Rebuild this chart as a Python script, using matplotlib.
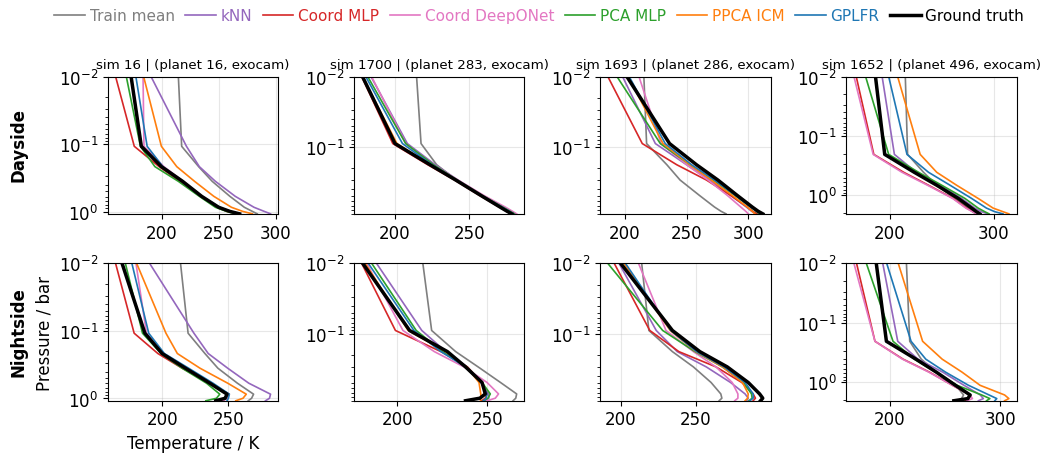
import numpy as np
import matplotlib
matplotlib.use("Agg")
import matplotlib.pyplot as plt

# one column per test simulation
sims = [16, 1700, 1693, 1652]
planets = [16, 283, 286, 496]
surface_pressure = [1.08, 0.9, 0.9, 2.04]  # bar
# model levels: top level at 0.01 bar, the rest are sigma levels
sigma = [0.1, 0.2, 0.33, 0.55, 0.8, 0.92, 1.0]

# temperatures (K), one row per column of the figure
train_mean_day = [[214.6, 217.5, 232.4, 244.3, 259.8, 272.5, 279.6, 283.8],
                  [214.5, 217.5, 228.0, 241.2, 258.3, 272.0, 276.8, 280.3],
                  [215.4, 217.6, 234.0, 244.7, 260.6, 272.6, 277.9, 281.9],
                  [215.0, 217.2, 232.5, 245.2, 262.7, 275.5, 279.6, 282.8]]
train_mean_night = [[213.9, 219.6, 232.3, 242.1, 256.8, 269.0, 267.5, 265.0],
                    [214.2, 219.1, 232.5, 245.0, 257.5, 266.5, 266.0, 264.5],
                    [214.0, 218.8, 234.5, 248.5, 260.3, 266.8, 267.5, 265.7],
                    [214.9, 217.9, 228.4, 241.8, 259.7, 266.8, 265.0, 261.0]]

knn_day = [[190.6, 221.7, 233.0, 247.1, 264.5, 281.0, 290.0, 295.5],
           [183.8, 208.3, 227.0, 242.3, 259.2, 273.0, 278.0, 281.1],
           [198.1, 224.7, 250.0, 268.6, 285.9, 298.4, 302.7, 305.9],
           [192.7, 204.5, 225.5, 248.4, 269.1, 281.8, 288.2, 294.6]]
knn_night = [[190.6, 224.0, 234.8, 249.5, 265.4, 281.8, 281.0, 278.0],
             [188.4, 213.6, 227.0, 239.0, 246.7, 250.9, 251.0, 249.0],
             [198.9, 223.7, 237.7, 257.1, 273.3, 283.0, 285.1, 284.1],
             [193.4, 207.0, 225.4, 247.8, 267.2, 282.0, 284.8, 280.3]]

coord_mlp_day = [[159.5, 175.9, 197.7, 216.0, 234.4, 248.5, 257.0, 266.3],
                 [177.6, 198.5, 222.0, 240.0, 257.0, 270.0, 275.0, 278.0],
                 [186.2, 214.1, 242.0, 266.0, 285.9, 299.2, 303.7, 307.2],
                 [167.8, 184.7, 213.4, 237.3, 261.1, 273.9, 280.3, 284.1]]
coord_mlp_night = [[164.9, 178.9, 196.8, 215.1, 236.0, 250.7, 249.0, 245.0],
                   [180.1, 198.9, 224.3, 239.0, 247.2, 250.0, 249.0, 247.0],
                   [195.7, 219.4, 238.8, 263.6, 280.8, 288.4, 289.9, 288.4],
                   [169.6, 186.3, 211.9, 235.8, 256.7, 272.8, 271.0, 268.3]]

deeponet_day = [[183.6, 184.4, 201.9, 218.9, 235.3, 250.3, 259.8, 267.7],
                [184.2, 207.2, 225.9, 242.3, 259.9, 274.1, 279.0, 281.8],
                [211.4, 229.3, 250.0, 267.3, 283.2, 293.9, 297.9, 300.0],
                [165.6, 184.1, 211.8, 236.3, 260.5, 273.2, 279.6, 283.4]]
deeponet_night = [[180.3, 188.2, 200.4, 217.6, 237.2, 250.0, 249.0, 246.0],
                  [182.9, 203.1, 220.6, 237.1, 250.0, 256.4, 254.6, 250.0],
                  [211.9, 230.2, 248.5, 263.6, 274.4, 278.2, 278.2, 276.1],
                  [167.2, 186.3, 211.3, 235.2, 256.7, 272.5, 274.9, 269.8]]

pca_mlp_day = [[168.9, 181.3, 194.0, 214.6, 233.0, 247.1, 257.0, 264.9],
               [181.6, 207.2, 225.9, 241.7, 258.8, 272.4, 277.4, 280.3],
               [193.6, 228.7, 252.7, 271.3, 289.4, 301.9, 306.4, 309.0],
               [176.8, 199.0, 227.7, 250.0, 272.3, 285.0, 291.4, 295.5]]
pca_mlp_night = [[172.3, 185.2, 199.2, 215.1, 233.5, 243.5, 241.0, 233.0],
                 [185.7, 210.5, 225.2, 238.4, 247.2, 251.8, 250.5, 248.0],
                 [191.4, 228.0, 249.6, 267.9, 281.9, 287.3, 287.7, 285.6],
                 [178.5, 202.7, 222.0, 241.5, 260.9, 283.3, 290.7, 287.7]]

ppca_icm_day = [[184.1, 199.7, 213.2, 228.8, 245.7, 261.2, 271.1, 279.6],
                [178.1, 201.3, 223.5, 240.8, 257.9, 270.6, 275.4, 278.5],
                [202.7, 230.9, 252.7, 270.0, 287.2, 299.2, 303.2, 305.3],
                [207.6, 229.3, 245.2, 264.3, 285.0, 299.4, 308.9, 314.6]]
ppca_icm_night = [[180.8, 202.9, 211.5, 228.6, 249.5, 263.5, 261.0, 255.6],
                  [182.0, 206.0, 227.0, 238.5, 245.5, 246.5, 246.5, 246.3],
                  [202.2, 233.0, 250.2, 267.9, 281.3, 285.1, 284.7, 283.0],
                  [207.5, 229.6, 247.4, 265.4, 281.8, 304.1, 308.0, 304.1]]

gplfr_day = [[177.3, 187.2, 201.0, 218.3, 235.0, 250.5, 260.5, 269.0],
             [180.3, 205.0, 224.8, 241.2, 258.3, 271.9, 276.8, 279.6],
             [203.5, 232.7, 254.0, 272.6, 289.9, 301.9, 307.2, 310.6],
             [199.0, 216.6, 237.3, 258.0, 278.7, 293.0, 301.0, 308.9]]
gplfr_night = [[177.2, 189.9, 201.7, 220.0, 238.4, 250.7, 250.0, 249.0],
               [183.8, 209.2, 224.3, 238.0, 246.7, 250.0, 249.5, 248.0],
               [203.2, 233.4, 250.6, 269.0, 283.0, 288.4, 288.4, 286.2],
               [197.0, 219.1, 232.5, 250.4, 271.3, 290.0, 297.0, 295.2]]

truth_day = [[173.1, 182.1, 199.7, 218.3, 235.0, 250.0, 259.8, 268.3],
             [178.1, 200.0, 223.5, 240.8, 257.9, 270.6, 275.4, 278.5],
             [201.6, 236.2, 258.0, 275.3, 291.2, 303.2, 308.0, 311.7],
             [186.3, 195.2, 223.6, 245.2, 265.9, 278.7, 283.4, 286.6]]
truth_night = [[169.8, 187.0, 200.0, 217.6, 236.0, 249.0, 247.5, 240.5],
               [180.7, 206.8, 227.9, 238.0, 247.2, 249.0, 246.0, 238.0],
               [200.0, 234.5, 252.8, 271.1, 285.1, 292.7, 294.8, 293.3],
               [187.5, 196.7, 223.6, 242.0, 259.4, 272.8, 270.7, 258.0]]

models = [
    ("Train mean", "tab:gray", train_mean_day, train_mean_night),
    ("kNN", "tab:purple", knn_day, knn_night),
    ("Coord MLP", "tab:red", coord_mlp_day, coord_mlp_night),
    ("Coord DeepONet", "tab:pink", deeponet_day, deeponet_night),
    ("PCA MLP", "tab:green", pca_mlp_day, pca_mlp_night),
    ("PPCA ICM", "tab:orange", ppca_icm_day, ppca_icm_night),
    ("GPLFR", "tab:blue", gplfr_day, gplfr_night),
]

fig, axes = plt.subplots(2, 4, figsize=(10.47, 4.56), dpi=100)
fig.subplots_adjust(left=0.103, right=0.971, bottom=0.119, top=0.830,
                    wspace=0.444, hspace=0.361)

for col in range(4):
    p = np.array([0.01] + [s * surface_pressure[col] for s in sigma])
    for row, side in enumerate(["day", "night"]):
        ax = axes[row, col]
        for name, color, day, night in models:
            T = day[col] if side == "day" else night[col]
            ax.plot(T, p, color=color, lw=1.2, label=name)
        T = truth_day[col] if side == "day" else truth_night[col]
        ax.plot(T, p, color="black", lw=2.5, label="Ground truth")
        ax.set_yscale("log")
        ax.set_ylim(p.max(), 1e-2)
        ax.grid(True, alpha=0.3)
        ax.tick_params(labelsize=12)
        if row == 0:
            ax.set_title(f"sim {sims[col]} | (planet {planets[col]}, exocam)", fontsize=9.6)

axes[1, 0].set_ylabel("Pressure / bar", fontsize=12)
axes[1, 0].set_xlabel("Temperature / K", fontsize=12)
fig.text(0.0175, 0.682, "Dayside", rotation=90, fontsize=12, fontweight="bold",
         ha="center", va="center")
fig.text(0.0175, 0.272, "Nightside", rotation=90, fontsize=12, fontweight="bold",
         ha="center", va="center")

handles, labels = axes[0, 0].get_legend_handles_labels()
leg = fig.legend(handles, labels, loc="upper center", bbox_to_anchor=(0.515, 1.01),
                 ncol=8, frameon=False, fontsize=11, handlelength=2.0,
                 handletextpad=0.3, columnspacing=0.7)
for text, line in zip(leg.get_texts(), leg.get_lines()):
    text.set_color(line.get_color())

fig.savefig("out.png", dpi=100)
